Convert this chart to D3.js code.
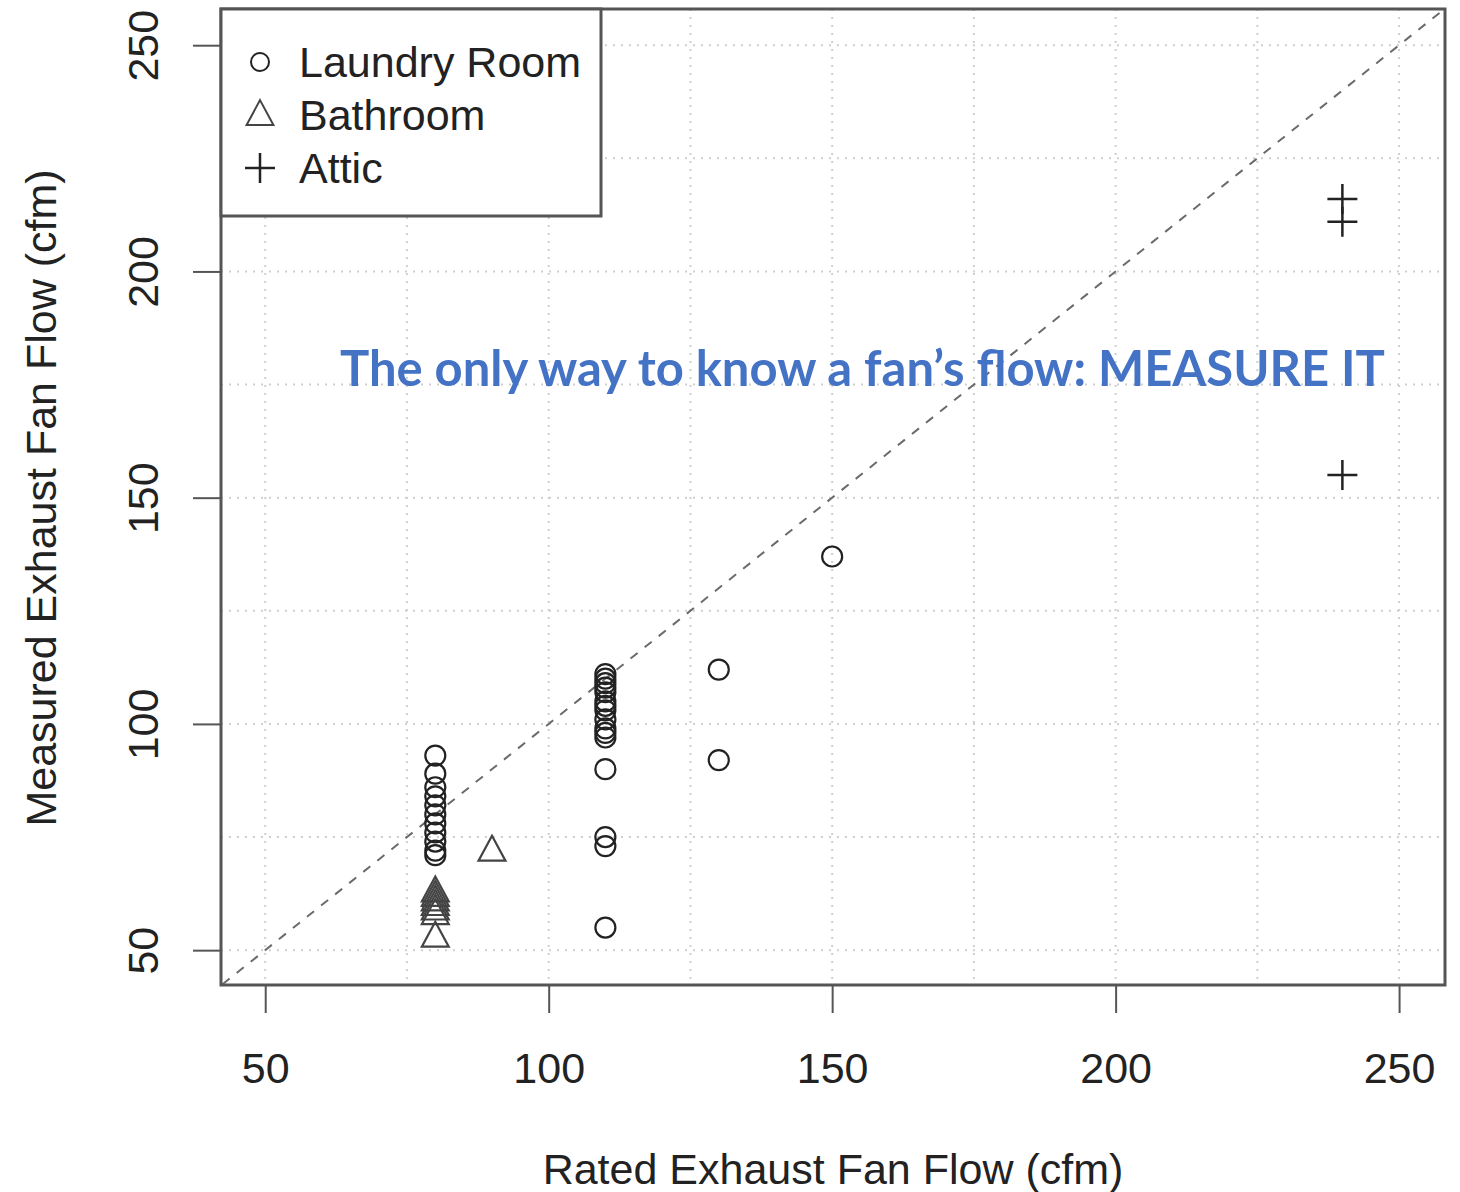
<!DOCTYPE html>
<html>
<head>
<meta charset="utf-8">
<script src="https://cdn.jsdelivr.net/npm/d3@7"></script>
<style>
  html, body { margin: 0; padding: 0; background: #fff; }
  svg { display: block; }
</style>
</head>
<body>
<div id="chart"></div>
<script>
// Tick values for both axes
const xTicks = [50, 100, 150, 200, 250];
const yTicks = [50, 100, 150, 200, 250];
const gridValues = [50, 75, 100, 125, 150, 175, 200, 225, 250];

// Laundry room fans (circles)
const laundryRated = [80, 80, 80, 80, 80, 80, 80, 80, 80, 80, 80,
  110, 110, 110, 110, 110, 110, 110, 110, 110, 110, 110, 110, 110, 110, 110, 110,
  130, 130, 150];
const laundryMeasured = [93, 89, 86, 84, 82, 80, 78, 76, 74, 72, 71,
  111, 110, 109, 108, 107, 105, 104, 103, 101, 99, 98, 97, 90, 75, 73, 55,
  112, 92, 137];

// Bathroom fans (triangles)
const bathRated = [80, 80, 80, 80, 80, 80, 80, 90];
const bathMeasured = [63, 62, 61, 60, 59, 58, 53, 72];

// Attic fans (plus signs)
const atticRated = [240, 240, 240];
const atticMeasured = [216, 211, 155];

const legendLabels = ['Laundry Room', 'Bathroom', 'Attic'];

const W = 1460, H = 1192;
const box = { left: 221, right: 1445, top: 9, bottom: 985 };

const svg = d3.select('#chart').append('svg')
  .attr('width', W)
  .attr('height', H);

const x = d3.scaleLinear().domain([42.2, 258.1]).range([box.left, box.right]);
const y = d3.scaleLinear().domain([42.3, 258]).range([box.bottom, box.top]);

const ink = '#222';
const font = '"Liberation Sans", Arial, sans-serif';
const fs = '43px';

// dotted grid
const grid = svg.append('g');
grid.selectAll('line.v')
  .data(gridValues)
  .enter().append('line')
  .attr('x1', d => x(d)).attr('x2', d => x(d))
  .attr('y1', box.top).attr('y2', box.bottom)
  .attr('stroke', '#cfcfcf')
  .attr('stroke-width', 2)
  .attr('stroke-dasharray', '2,6');
grid.selectAll('line.h')
  .data(gridValues)
  .enter().append('line')
  .attr('x1', box.left).attr('x2', box.right)
  .attr('y1', d => y(d)).attr('y2', d => y(d))
  .attr('stroke', '#cfcfcf')
  .attr('stroke-width', 2)
  .attr('stroke-dasharray', '2,6');

// y = x reference line
svg.append('defs').append('clipPath').attr('id', 'clip')
  .append('rect')
  .attr('x', box.left).attr('y', box.top)
  .attr('width', box.right - box.left).attr('height', box.bottom - box.top);

svg.append('line')
  .attr('clip-path', 'url(#clip)')
  .attr('x1', x(40)).attr('y1', y(40))
  .attr('x2', x(260)).attr('y2', y(260))
  .attr('stroke', '#6a6a6a')
  .attr('stroke-width', 2)
  .attr('stroke-dasharray', '9,9');

// points
const pts = svg.append('g');

pts.selectAll('circle')
  .data(laundryRated.map((r, i) => [r, laundryMeasured[i]]))
  .enter().append('circle')
  .attr('cx', d => x(d[0]))
  .attr('cy', d => y(d[1]))
  .attr('r', 10)
  .attr('fill', 'none')
  .attr('stroke', ink)
  .attr('stroke-width', 2.2);

const tri = s => `M0,${-s * 0.62}L${s * 0.56},${s * 0.42}L${-s * 0.56},${s * 0.42}Z`;
pts.selectAll('path.tri')
  .data(bathRated.map((r, i) => [r, bathMeasured[i]]))
  .enter().append('path')
  .attr('class', 'tri')
  .attr('transform', d => `translate(${x(d[0])},${y(d[1])})`)
  .attr('d', tri(24))
  .attr('fill', 'none')
  .attr('stroke', '#444')
  .attr('stroke-width', 2.2);

const plus = s => `M${-s / 2},0H${s / 2}M0,${-s / 2}V${s / 2}`;
pts.selectAll('path.plus')
  .data(atticRated.map((r, i) => [r, atticMeasured[i]]))
  .enter().append('path')
  .attr('class', 'plus')
  .attr('transform', d => `translate(${x(d[0])},${y(d[1])})`)
  .attr('d', plus(30))
  .attr('fill', 'none')
  .attr('stroke', ink)
  .attr('stroke-width', 2.5);

// plot frame
svg.append('rect')
  .attr('x', box.left).attr('y', box.top)
  .attr('width', box.right - box.left).attr('height', box.bottom - box.top)
  .attr('fill', 'none')
  .attr('stroke', '#555')
  .attr('stroke-width', 3);

// axes
const xAxis = svg.append('g')
  .attr('transform', `translate(0,${box.bottom})`)
  .call(d3.axisBottom(x).tickValues(xTicks).tickSize(28));
const yAxis = svg.append('g')
  .attr('transform', `translate(${box.left},0)`)
  .call(d3.axisLeft(y).tickValues(yTicks).tickSize(28));

[xAxis, yAxis].forEach(a => {
  a.select('.domain').remove();
  a.selectAll('.tick line').attr('stroke', '#555').attr('stroke-width', 2);
  a.selectAll('.tick text')
    .attr('fill', '#222')
    .style('font-family', font)
    .style('font-size', fs);
});
xAxis.selectAll('.tick text').attr('dy', '0.35em').attr('y', 83);
yAxis.selectAll('.tick text')
  .attr('x', 0).attr('dy', 0)
  .attr('text-anchor', 'middle')
  .attr('transform', 'translate(-63,0) rotate(-90)');

// axis titles
svg.append('text')
  .attr('x', 833).attr('y', 1184)
  .attr('text-anchor', 'middle')
  .attr('fill', '#222')
  .style('font-family', font)
  .style('font-size', fs)
  .text('Rated Exhaust Fan Flow (cfm)');

svg.append('text')
  .attr('transform', 'translate(56,498) rotate(-90)')
  .attr('text-anchor', 'middle')
  .attr('fill', '#222')
  .style('font-family', font)
  .style('font-size', fs)
  .text('Measured Exhaust Fan Flow (cfm)');

// legend
const lg = svg.append('g');
lg.append('rect')
  .attr('x', box.left).attr('y', box.top)
  .attr('width', 380).attr('height', 207)
  .attr('fill', '#fff')
  .attr('stroke', '#555')
  .attr('stroke-width', 3);

const rows = lg.selectAll('g.row')
  .data(legendLabels)
  .enter().append('g')
  .attr('class', 'row')
  .attr('transform', (d, i) => `translate(260,${62 + i * 53})`);

rows.each(function(d, i) {
  const g = d3.select(this);
  if (i === 0) {
    g.append('circle').attr('r', 9).attr('fill', 'none').attr('stroke', ink).attr('stroke-width', 2);
  } else if (i === 1) {
    g.append('path').attr('d', tri(24)).attr('fill', 'none').attr('stroke', '#444').attr('stroke-width', 2);
  } else {
    g.append('path').attr('d', plus(30)).attr('fill', 'none').attr('stroke', ink).attr('stroke-width', 2.5);
  }
});

rows.append('text')
  .attr('x', 39).attr('y', 15)
  .attr('fill', '#222')
  .style('font-family', font)
  .style('font-size', fs)
  .text(d => d);

// annotation
svg.append('text')
  .attr('x', 340).attr('y', 386)
  .attr('fill', '#4472C4')
  .attr('textLength', 1045)
  .attr('lengthAdjust', 'spacingAndGlyphs')
  .style('font-family', 'Lato, "Open Sans", sans-serif')
  .style('font-weight', 'bold')
  .style('font-size', '49px')
  .text('The only way to know a fan\u2019s flow: MEASURE IT');
</script>
</body>
</html>
